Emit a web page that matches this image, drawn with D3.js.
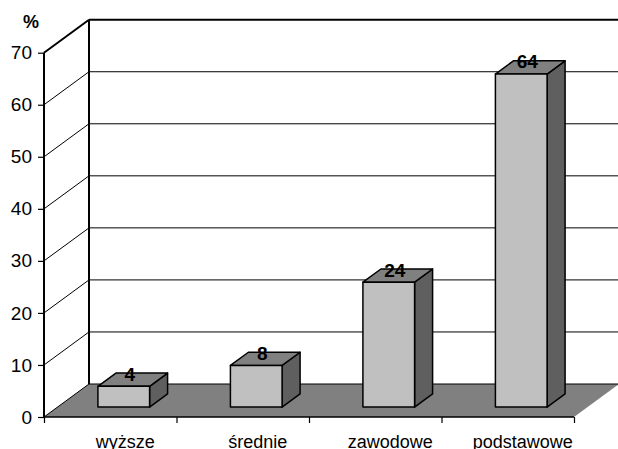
<!DOCTYPE html>
<html>
<head>
<meta charset="utf-8">
<script src="https://cdn.jsdelivr.net/npm/d3@7"></script>
<style>
  html, body { margin: 0; padding: 0; background: #fff; }
  svg { display: block; }
  text { font-family: "Liberation Sans", Arial, sans-serif; fill: #000; }
</style>
</head>
<body>
<div id="chart"></div>
<script>
// Education level shares (%)
const categories = ["wyższe", "średnie", "zawodowe", "podstawowe"];
const values = [4, 8, 24, 64];
const yTicks = [0, 10, 20, 30, 40, 50, 60, 70];
const yLabel = "%";

const W = 618, H = 449;
const x0 = 44, x1 = 574;          // front edge of the floor
const yBottom = 417, yTop = 52.7; // front plane 0 and 70
const depthDx = 45, depthDy = -33; // oblique offset of the full depth

const svg = d3.select("#chart").append("svg")
  .attr("width", W).attr("height", H);

const y = d3.scaleLinear().domain([0, 70]).range([yBottom, yTop]);
const xBand = d3.scaleBand().domain(categories).range([x0, x1])
  .paddingInner(0.61).paddingOuter(0.305);
const xCat = d3.scaleBand().domain(categories).range([x0, x1]);
const xEdge = d3.scaleLinear().domain([0, categories.length]).range([x0, x1]);

// project a point at front-plane (x, y) pushed back by depth d (0..1)
const P = (x, yy, d) => [x + depthDx * d, yy + depthDy * d];
const poly = pts => pts.map(p => p.join(",")).join(" ");

// floor
svg.append("polygon")
  .attr("points", poly([P(x0, yBottom, 0), P(x1, yBottom, 0), P(x1, yBottom, 1), P(x0, yBottom, 1)]))
  .attr("fill", "#808080");
svg.append("line")
  .attr("x1", x0 + depthDx).attr("y1", yBottom + depthDy)
  .attr("x2", W).attr("y2", yBottom + depthDy)
  .attr("stroke", "#000").attr("stroke-width", 1.2);

// grid: side wall diagonals and back wall horizontals
const grid = svg.append("g");
yTicks.forEach(v => {
  const thick = v === 70 ? 2 : 1;
  const a = P(x0, y(v), 0), b = P(x0, y(v), 1);
  grid.append("line")
    .attr("x1", a[0]).attr("y1", a[1]).attr("x2", b[0]).attr("y2", b[1])
    .attr("stroke", "#000").attr("stroke-width", thick);
  if (v > 0) {
    grid.append("line")
      .attr("x1", b[0]).attr("y1", b[1]).attr("x2", W).attr("y2", b[1])
      .attr("stroke", "#000").attr("stroke-width", thick);
  }
});
// back wall corner edge
svg.append("line")
  .attr("x1", x0 + depthDx).attr("y1", y(0) + depthDy)
  .attr("x2", x0 + depthDx).attr("y2", y(70) + depthDy)
  .attr("stroke", "#000").attr("stroke-width", 2);

// bars as boxes from depth 0.3 to 0.7
const dFront = 0.3, dBack = 0.7;
const bars = svg.append("g");
categories.forEach((c, i) => {
  const v = values[i];
  const bx = xBand(c), bw = xBand.bandwidth();
  const yb = y(0), yt = y(v);
  const f = [P(bx, yt, dFront), P(bx + bw, yt, dFront), P(bx + bw, yb, dFront), P(bx, yb, dFront)];
  const side = [P(bx + bw, yt, dFront), P(bx + bw, yt, dBack), P(bx + bw, yb, dBack), P(bx + bw, yb, dFront)];
  const top = [P(bx, yt, dFront), P(bx, yt, dBack), P(bx + bw, yt, dBack), P(bx + bw, yt, dFront)];
  const g = bars.append("g").attr("stroke", "#000").attr("stroke-width", 1.5).attr("stroke-linejoin", "round");
  g.append("polygon").attr("points", poly(side)).attr("fill", "#5f5f5f");
  g.append("polygon").attr("points", poly(top)).attr("fill", "#808080");
  g.append("polygon").attr("points", poly(f)).attr("fill", "#c0c0c0");

  const lc = P(bx + bw / 2, yt, 0.5);
  svg.append("text")
    .attr("x", bx + bw / 2 + depthDx * dFront + 6)
    .attr("y", lc[1] + 1)
    .attr("text-anchor", "middle")
    .attr("font-size", 19).attr("font-weight", "bold")
    .text(v);
});

// value axis
const yAxis = svg.append("g")
  .attr("transform", `translate(${x0},0)`)
  .call(d3.axisLeft(y).tickValues(yTicks).tickSize(6).tickPadding(6));
yAxis.select(".domain").attr("stroke", "#000").attr("stroke-width", 2)
  .attr("d", `M0,${y(70)}V${y(0) + 1}`);
yAxis.selectAll(".tick line").attr("stroke", "#000").attr("stroke-width", 1.2);
yAxis.selectAll(".tick text").attr("font-size", 19).attr("fill", "#000")
  .style("font-family", "'Liberation Sans', Arial, sans-serif");

svg.append("text")
  .attr("x", 31).attr("y", 28)
  .attr("text-anchor", "middle")
  .attr("font-size", 18).attr("font-weight", "bold")
  .text(yLabel);

// category axis: boundary ticks and labels
const xAxis = svg.append("g")
  .attr("transform", `translate(0,${yBottom})`)
  .call(d3.axisBottom(xEdge).tickValues(d3.range(categories.length + 1)).tickSize(6).tickFormat(""));
xAxis.select(".domain").attr("stroke", "#000").attr("stroke-width", 1.5)
  .attr("d", `M${x0},0H${x1}`);
xAxis.selectAll(".tick line").attr("stroke", "#000").attr("stroke-width", 1.2);

const xLab = svg.append("g")
  .attr("transform", `translate(15,${yBottom})`)
  .call(d3.axisBottom(xCat).tickSize(0).tickPadding(20));
xLab.select(".domain").remove();
xLab.selectAll(".tick text").attr("font-size", 18).attr("fill", "#000")
  .attr("dy", "0.6em")
  .style("font-family", "'Liberation Sans', Arial, sans-serif");
</script>
</body>
</html>
